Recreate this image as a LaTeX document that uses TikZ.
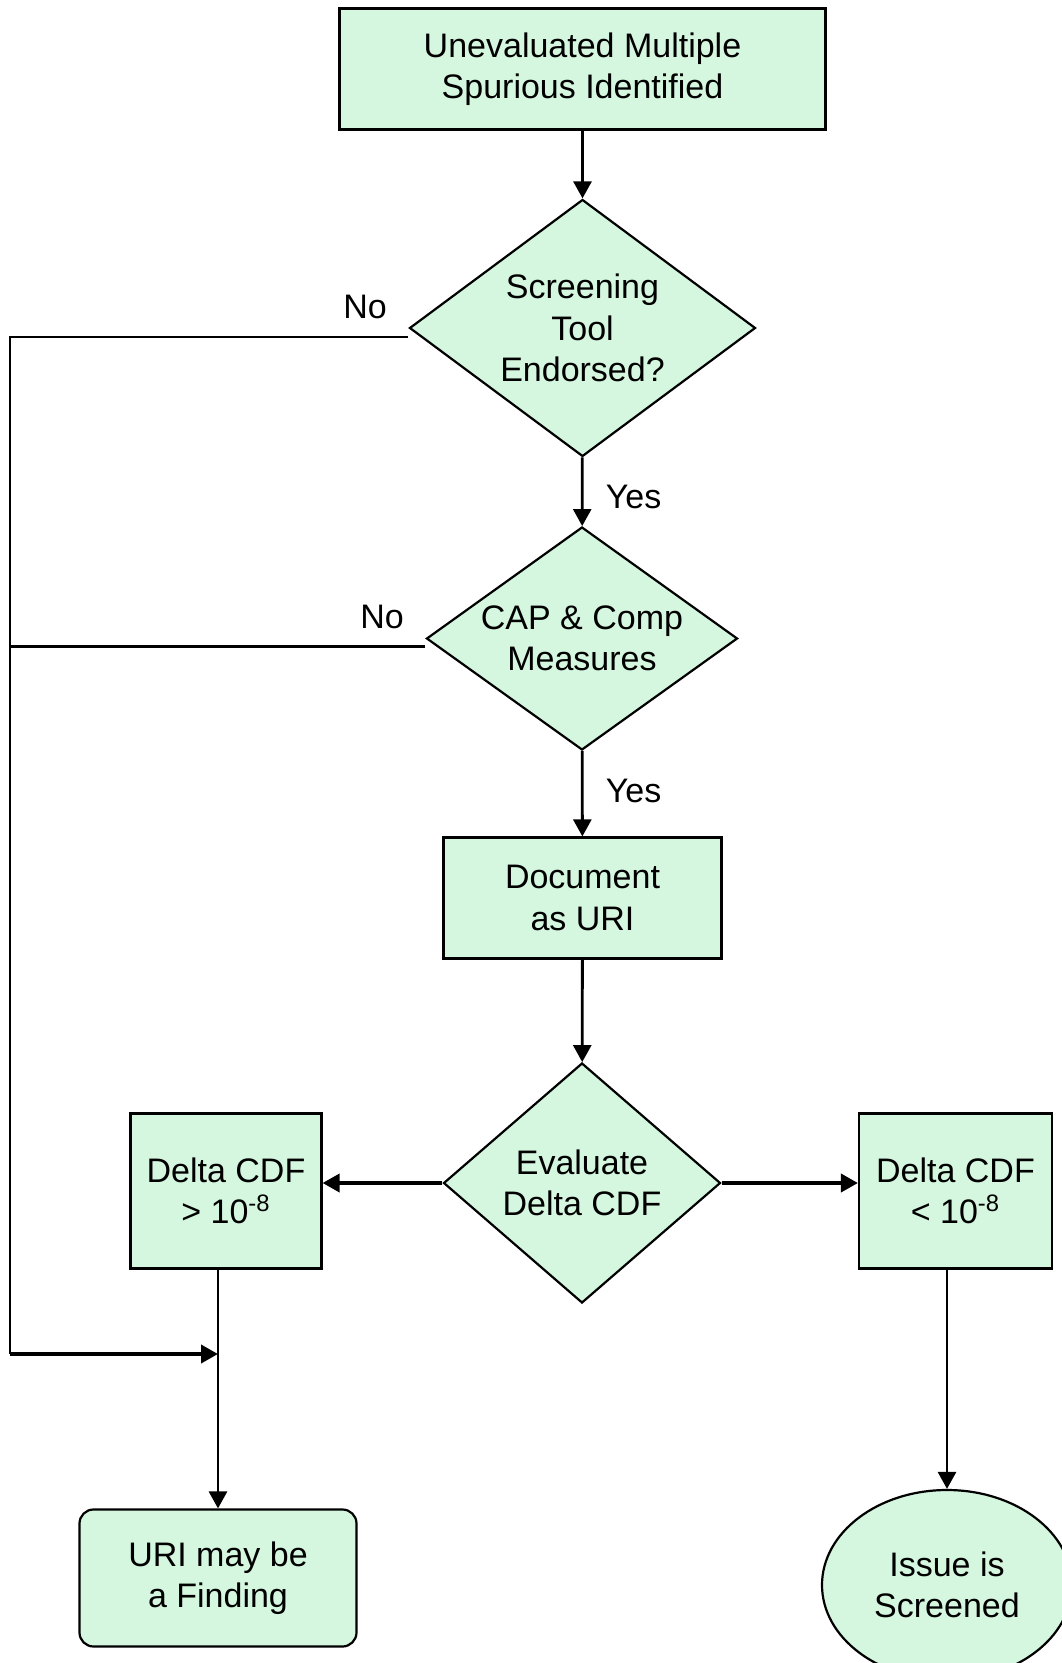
\documentclass[tikz,border=0pt]{standalone}
\usepackage{fontspec}
\setmainfont{Liberation Sans}
\usepackage{tikz}
\usetikzlibrary{shapes.geometric}
\usetikzlibrary{calc}
\usetikzlibrary{arrows.meta}

\definecolor{boxgreen}{RGB}{213,246,223}

\tikzset{
  every node/.style={font=\fontsize{17pt}{20.7pt}\selectfont},
  stepbox/.style={draw, line width=1.1pt, fill=boxgreen, align=center, inner sep=2pt},
  decision/.style={draw, line width=1.1pt, fill=boxgreen, align=center,
    diamond, inner sep=-3pt},
  line/.style={draw, line width=1.1pt},
  arr/.style={draw, line width=1.4pt, -{Triangle[length=8.5pt,width=9pt]}},
  thickarr/.style={draw, line width=1.9pt, -{Triangle[length=8.5pt,width=9pt]}}
}

\begin{document}
\begin{tikzpicture}[x=0.5pt,y=-0.5pt]
      \useasboundingbox (0,0) rectangle (1061,1663);
      % boxes and decisions
      \node[stepbox, minimum width=243pt, minimum height=60.5pt] (start)
        at (582.5,69) {Unevaluated Multiple\\Spurious Identified};
      \node[decision, minimum width=173pt, minimum height=128.5pt,
        aspect=1.35] (tool) at (582.5,328) {Screening\\Tool\\Endorsed?};
      \node[decision, minimum width=155.5pt, minimum height=111.5pt,
        aspect=1.4] (cap) at (582,638.5) {CAP \& Comp\\Measures};
      \node[stepbox, minimum width=139pt, minimum height=60.5pt] (doc)
        at (582.5,898) {Document\\as URI};
      \node[decision, minimum width=138.5pt, minimum height=120pt,
        aspect=1.15] (eval) at (582,1183) {Evaluate\\Delta CDF};
      \node[stepbox, minimum width=95.5pt, minimum height=77.5pt] (gt)
        at (226,1191) {Delta CDF\\> 10\textsuperscript{-8}};
      \node[stepbox, minimum width=96.5pt, minimum height=77.5pt] (lt)
        at (955.5,1191) {Delta CDF\\< 10\textsuperscript{-8}};
      \node[stepbox, rounded corners=7pt, minimum width=138.5pt,
        minimum height=68.5pt] (uri) at (218,1578) {URI may be\\a Finding};
      \node[stepbox, ellipse, inner sep=0pt, minimum width=125pt,
        minimum height=95pt] (scr) at (947,1585) {Issue is\\Screened};
      % labels
      \node (no1) at (365,307) {No};
      \node (no2) at (382,617) {No};
      \node (yes1) at (633.5,497) {Yes};
      \node (yes2) at (633.5,791) {Yes};
      % connectors
      \coordinate (corner) at (10,1354);
      \draw[arr] (start) -- (tool);
      \draw[arr] (tool) -- (cap);
      \draw[arr] (cap) -- (doc);
      \draw[arr] (doc) -- (eval);
      \draw[line] ([yshift=-4.5pt]tool.west) -| (corner);
      \draw[line] ([yshift=-4pt]cap.west) -- ([yshift=-4pt]cap.west -| corner);
      \draw[thickarr] (corner) -- (corner -| uri.north);
      \draw[thickarr] (eval.west) -- (eval.west -| gt.east);
      \draw[thickarr] (eval.east) -- (eval.east -| lt.west);
      \draw[arr] (gt.south -| uri.north) -- (uri.north);
      \draw[arr] (lt.south -| scr.north) -- (scr.north);
    \end{tikzpicture}
\end{document}
